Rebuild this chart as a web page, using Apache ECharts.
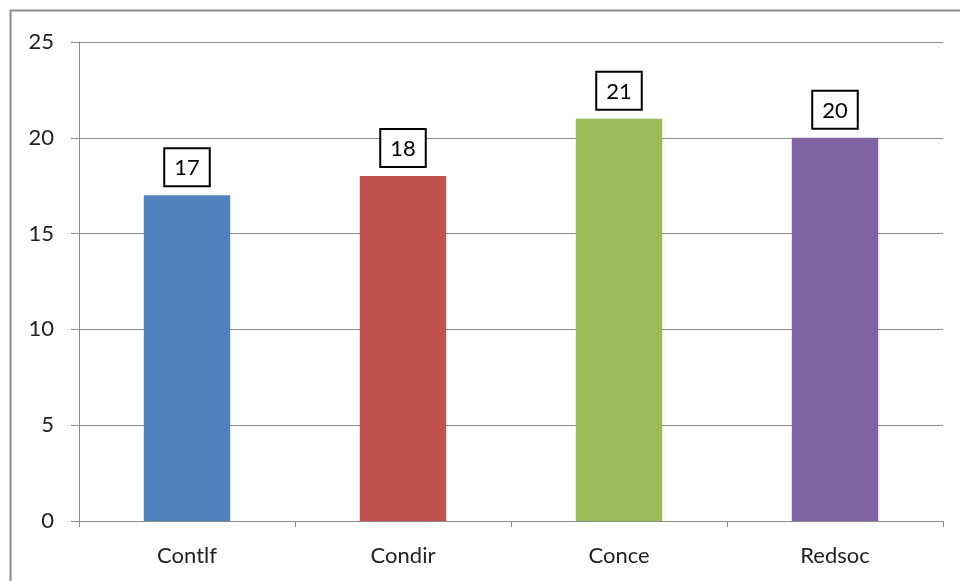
<!DOCTYPE html>
<html>
<head>
<meta charset="utf-8">
<script src="https://cdn.jsdelivr.net/npm/echarts@6/dist/echarts.min.js"></script>
<style>
html,body{margin:0;padding:0;background:#fff;}
#chart{width:960px;height:581px;}
</style>
</head>
<body>
<div id="chart"></div>
<script>
const categories = ['Contlf', 'Condir', 'Conce', 'Redsoc'];
const values = [17, 18, 21, 20];
const barColors = ['#4F81BD', '#C0504D', '#9BBB59', '#8064A2'];
const yTicks = { min: 0, max: 25, interval: 5 };

const chart = echarts.init(document.getElementById('chart'));
const font = 'Lato, "Open Sans", sans-serif';

chart.setOption({
  animation: false,
  backgroundColor: '#fff',
  graphic: [{
    type: 'rect',
    shape: { x: 10.5, y: 10.5, width: 1000, height: 1000 },
    style: { fill: 'none', stroke: '#8c8c8c', lineWidth: 2 },
    silent: true
  }],
  grid: { left: 79, right: 17, top: 42, bottom: 60, containLabel: false },
  xAxis: {
    type: 'category',
    data: categories,
    axisLine: { show: true, lineStyle: { color: '#8c8c8c', width: 1 } },
    axisTick: { show: true, length: 6, alignWithLabel: false, lineStyle: { color: '#8c8c8c' } },
    axisLabel: { color: '#222', fontSize: 22, fontFamily: font, margin: 24 }
  },
  yAxis: {
    type: 'value',
    min: yTicks.min,
    max: yTicks.max,
    interval: yTicks.interval,
    axisLine: { show: true, lineStyle: { color: '#8c8c8c', width: 1 } },
    axisTick: { show: true, length: 8, inside: false, lineStyle: { color: '#8c8c8c' } },
    splitLine: { show: true, lineStyle: { color: '#8c8c8c', width: 1 } },
    axisLabel: { color: '#222', fontSize: 22, fontFamily: font, margin: 25 }
  },
  series: [{
    type: 'bar',
    data: values.map((v, i) => ({ value: v, itemStyle: { color: barColors[i] } })),
    barWidth: '40%',
    label: {
      show: true,
      position: 'top',
      distance: 10,
      color: '#000',
      fontSize: 22,
      fontFamily: font,
      backgroundColor: '#fff',
      borderColor: '#000',
      borderWidth: 2,
      padding: [8, 9, 6, 9]
    }
  }]
});
</script>
</body>
</html>
